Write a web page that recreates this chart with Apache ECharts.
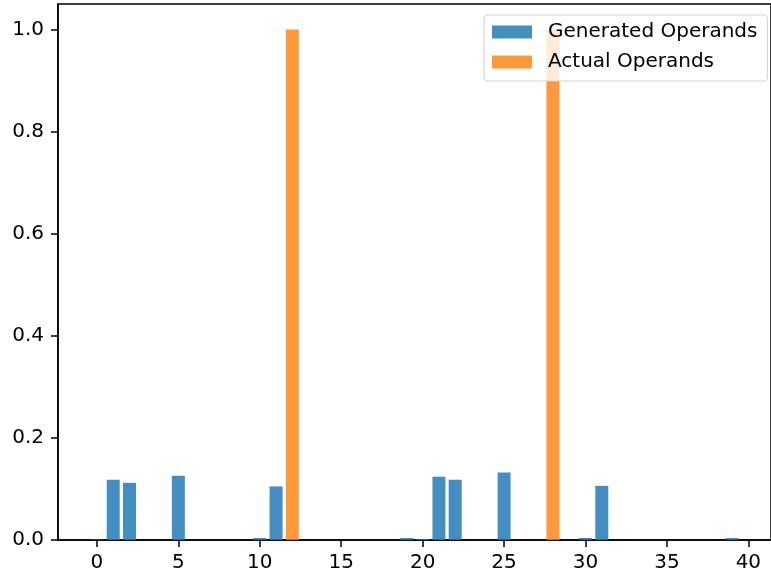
<!DOCTYPE html>
<html>
<head>
<meta charset="utf-8">
<script src="https://cdn.jsdelivr.net/npm/echarts@6/dist/echarts.min.js"></script>
<style>
  html, body { margin: 0; padding: 0; background: #fff; }
  #chart { width: 771px; height: 579px; }
</style>
</head>
<body>
<div id="chart"></div>
<script>
// Operand slot indices 0..39
const positions = Array.from({ length: 40 }, (_, i) => i);

// Generated operand scores per slot
const generated = [
  0.001, 0.118, 0.112, 0, 0, 0.126, 0, 0, 0, 0,
  0.004, 0.105, 0, 0, 0, 0, 0, 0, 0, 0.004,
  0.002, 0.124, 0.118, 0, 0, 0.132, 0, 0, 0, 0,
  0.004, 0.106, 0, 0, 0, 0, 0, 0, 0, 0.004
];

// Actual operands (one-hot)
const actual = [
  0, 0, 0, 0, 0, 0, 0, 0, 0, 0,
  0, 0, 1.0, 0, 0, 0, 0, 0, 0, 0,
  0, 0, 0, 0, 0, 0, 0, 0, 1.0, 0,
  0, 0, 0, 0, 0, 0, 0, 0, 0, 0
];

const xTicks = [0, 5, 10, 15, 20, 25, 30, 35, 40];
const yTicks = [0.0, 0.2, 0.4, 0.6, 0.8, 1.0];

const seriesNames = ['Generated Operands', 'Actual Operands'];

const FONT = 'DejaVu Sans';
const chart = echarts.init(document.getElementById('chart'), null, { renderer: 'canvas' });

const toPairs = vals => positions.map((p, i) => [p, vals[i]]);

chart.setOption({
  backgroundColor: '#ffffff',
  animation: false,
  grid: {
    left: 58, top: 4, width: 718, height: 536,
    show: true, borderColor: '#000', borderWidth: 1.5, backgroundColor: 'transparent'
  },
  legend: {
    orient: 'vertical',
    left: 484, top: 15,
    z: 20,
    data: seriesNames,
    icon: 'rect',
    itemWidth: 40, itemHeight: 13,
    itemGap: 10,
    padding: [7, 10, 9, 8],
    backgroundColor: 'rgba(255,255,255,0.8)',
    borderColor: '#d6d6d6', borderWidth: 1.2, borderRadius: 4,
    textStyle: { fontFamily: FONT, fontSize: 20, color: '#000', lineHeight: 20, padding: [0, 0, 0, 11] }
  },
  xAxis: {
    type: 'value',
    min: -2.39, max: 41.39,
    splitLine: { show: false },
    axisLine: { show: true, onZero: false, lineStyle: { color: '#000', width: 1.5 } },
    axisTick: { show: true, length: 7, customValues: xTicks, lineStyle: { color: '#000', width: 1.5 } },
    axisLabel: { customValues: xTicks, margin: 13, fontFamily: FONT, fontSize: 20, color: '#000' }
  },
  yAxis: {
    type: 'value',
    min: 0, max: 1.05,
    splitLine: { show: false },
    axisLine: { show: true, onZero: false, lineStyle: { color: '#000', width: 1.5 } },
    axisTick: { show: true, length: 7, customValues: yTicks, lineStyle: { color: '#000', width: 1.5 } },
    axisLabel: {
      customValues: yTicks, margin: 14, fontFamily: FONT, fontSize: 20, color: '#000',
      formatter: v => v.toFixed(1)
    }
  },
  series: [
    {
      name: seriesNames[0],
      type: 'bar',
      data: toPairs(generated),
      barWidth: 13,
      barGap: '-100%',
      itemStyle: { color: '#1f77b4', opacity: 0.83 }
    },
    {
      name: seriesNames[1],
      type: 'bar',
      data: toPairs(actual),
      barWidth: 13,
      barGap: '-100%',
      itemStyle: { color: '#ff7f0e', opacity: 0.8 }
    }
  ]
});
</script>
</body>
</html>
